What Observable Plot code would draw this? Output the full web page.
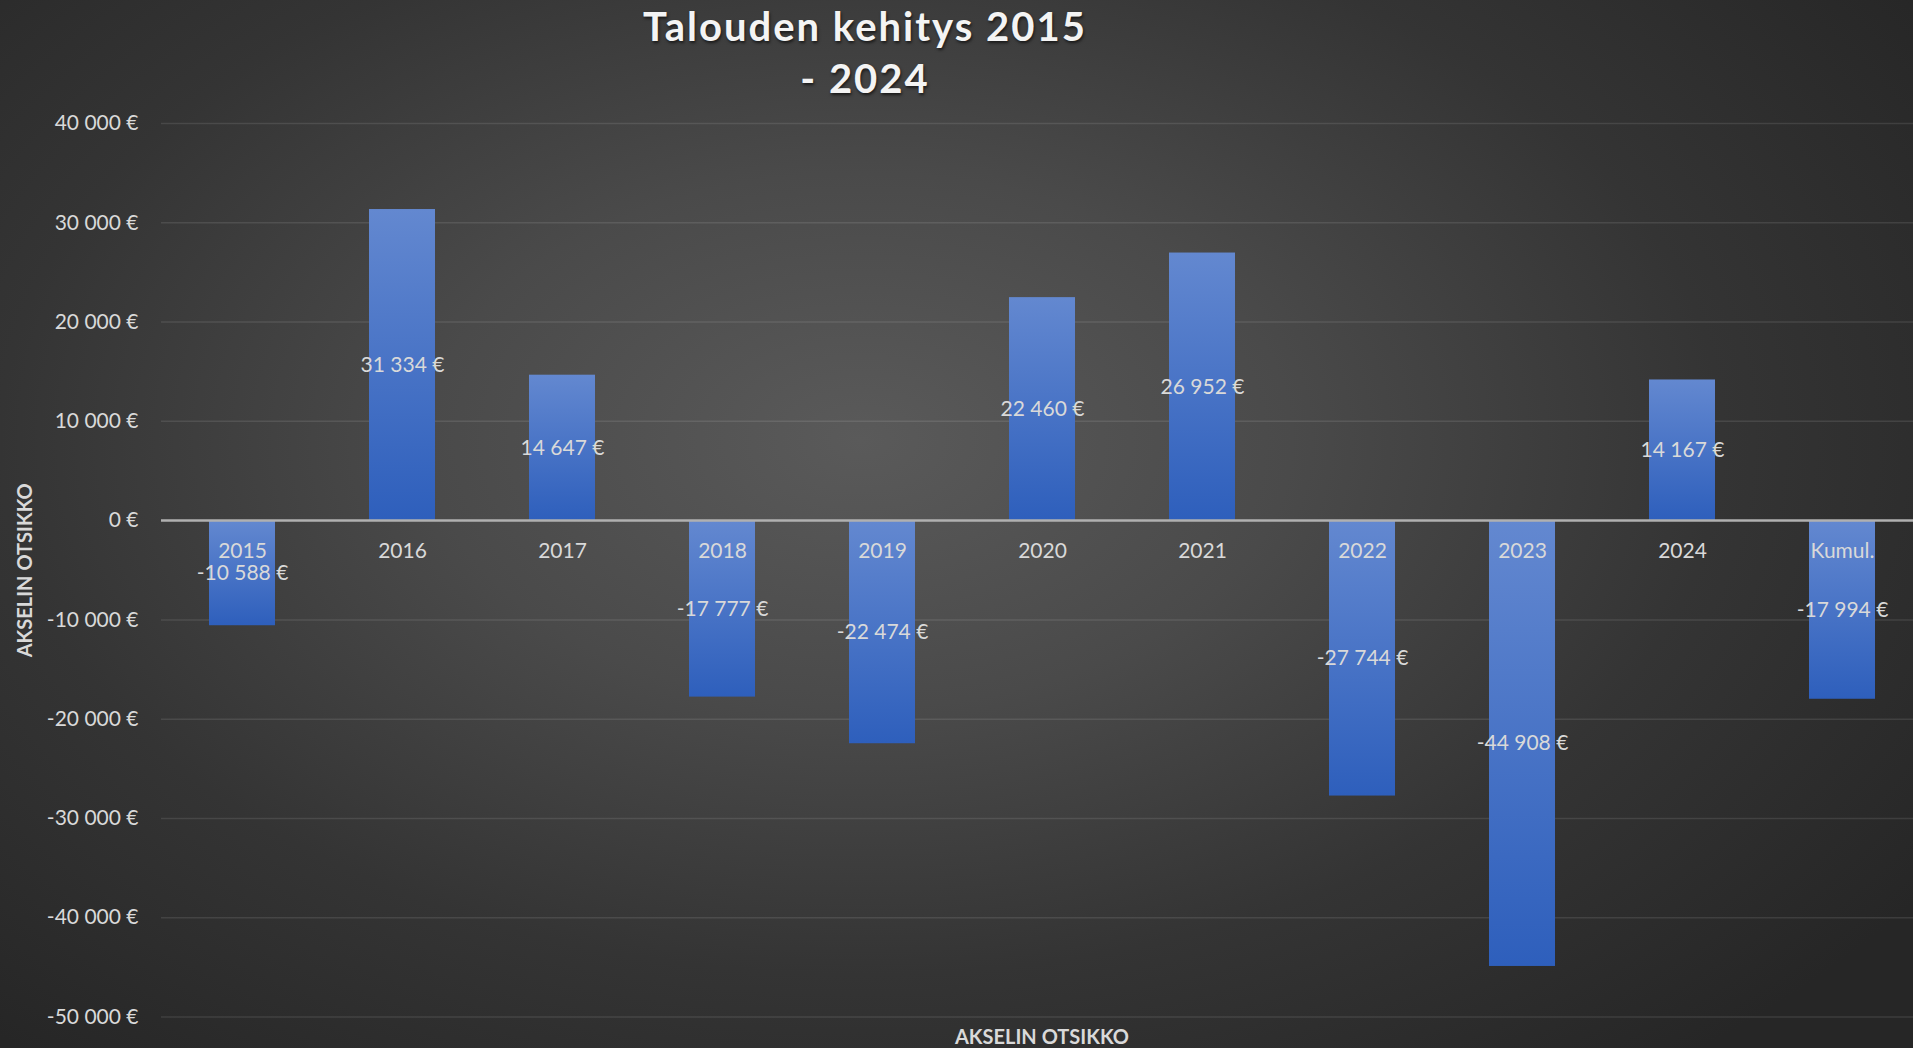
<!DOCTYPE html>
<html>
<head>
<meta charset="utf-8">
<script src="https://cdn.jsdelivr.net/npm/d3@7"></script>
<script src="https://cdn.jsdelivr.net/npm/@observablehq/plot@0.6"></script>
<style>
  html, body { margin: 0; padding: 0; width: 1913px; height: 1048px; overflow: hidden; }
  #page {
    position: relative; width: 1913px; height: 1048px; overflow: hidden;
    background: radial-gradient(ellipse 75% 85% at 45% 42%, #5a5a5a 0%, #4a4a4a 30%, #343434 60%, #262626 90%);
    font-family: Lato, "Open Sans", sans-serif;
  }
  #title {
    position: absolute; left: 0; top: 0; width: 1730px; text-align: center;
    font-size: 40px; font-weight: bold; line-height: 52px; color: #f4f4f4;
    letter-spacing: 2px;
    text-shadow: 1px 2px 3px rgba(0,0,0,0.6);
  }
  #chart { position: absolute; left: 0; top: 100px; width: 1922px; }
  #chart svg { max-width: none !important; }
</style>
</head>
<body>
<div id="page">
  <div id="title">Talouden kehitys 2015<br>- 2024</div>
  <div id="chart"></div>
</div>
<script>
const categories = ["2015","2016","2017","2018","2019","2020","2021","2022","2023","2024","Kumul."];
const values = [-10588, 31334, 14647, -17777, -22474, 22460, 26952, -27744, -44908, 14167, -17994];
const yTicks = [40000, 30000, 20000, 10000, 0, -10000, -20000, -30000, -40000, -50000];
const xAxisTitle = "AKSELIN OTSIKKO";
const yAxisTitle = "AKSELIN OTSIKKO";

const data = categories.map((c, i) => ({cat: c, value: values[i]}));

function fmtNum(v) {
  const s = Math.abs(v).toString().replace(/\B(?=(\d{3})+(?!\d))/g, " ");
  return (v < 0 ? "-" : "") + s + " €";
}

const labelColor = "#d9d9d9";

const plot = Plot.plot({
  width: 1922,
  height: 948,
  marginLeft: 161,
  marginRight: 0,
  marginTop: 23,
  marginBottom: 31.5,
  style: { fontFamily: "Lato, 'Open Sans', sans-serif", background: "transparent", overflow: "visible" },
  x: { domain: categories, paddingInner: 0.59, paddingOuter: 0.295, align: 0.5, axis: null },
  y: { domain: [-50000, 40000], axis: null },
  marks: [
    Plot.ruleY(yTicks.filter(d => d !== 0), { stroke: "#ffffff", strokeOpacity: 0.1, strokeWidth: 1.5 }),
    Plot.text(yTicks, {
      y: d => d, text: d => fmtNum(d), frameAnchor: "left", textAnchor: "end", dx: -23,
      fill: labelColor, fontSize: 21
    }),
    Plot.barY(data, {
      x: "cat", y: "value", fill: "url(#barGrad)",
      style: "filter: drop-shadow(2px 5px 4px rgba(0,0,0,0.55))"
    }),
    Plot.ruleY([0], { stroke: "#b0b0b0", strokeWidth: 2.5 }),
    Plot.text(data, {
      x: "cat", y: 0, text: "cat", dy: 31, fill: labelColor, fontSize: 21
    }),
    Plot.text(data, {
      x: "cat", y: d => d.value / 2, text: d => fmtNum(d.value), fill: labelColor, fontSize: 21
    }),
    Plot.text([xAxisTitle], {
      frameAnchor: "bottom", text: d => d, dy: 27,
      fill: labelColor, fontSize: 20, fontWeight: "bold"
    }),
    Plot.text([yAxisTitle], {
      frameAnchor: "left", textAnchor: "middle", text: d => d, rotate: -90, dx: -136, y: () => -5000,
      fill: labelColor, fontSize: 20, fontWeight: "bold"
    })
  ]
});

const svg = d3.select(plot);
const defs = svg.insert("defs", ":first-child");
const grad = defs.append("linearGradient").attr("id", "barGrad")
  .attr("x1", 0).attr("y1", 0).attr("x2", 0).attr("y2", 1);
grad.append("stop").attr("offset", "0%").attr("stop-color", "#6388d0");
grad.append("stop").attr("offset", "100%").attr("stop-color", "#2e5fbc");

document.getElementById("chart").appendChild(plot);
</script>
</body>
</html>
